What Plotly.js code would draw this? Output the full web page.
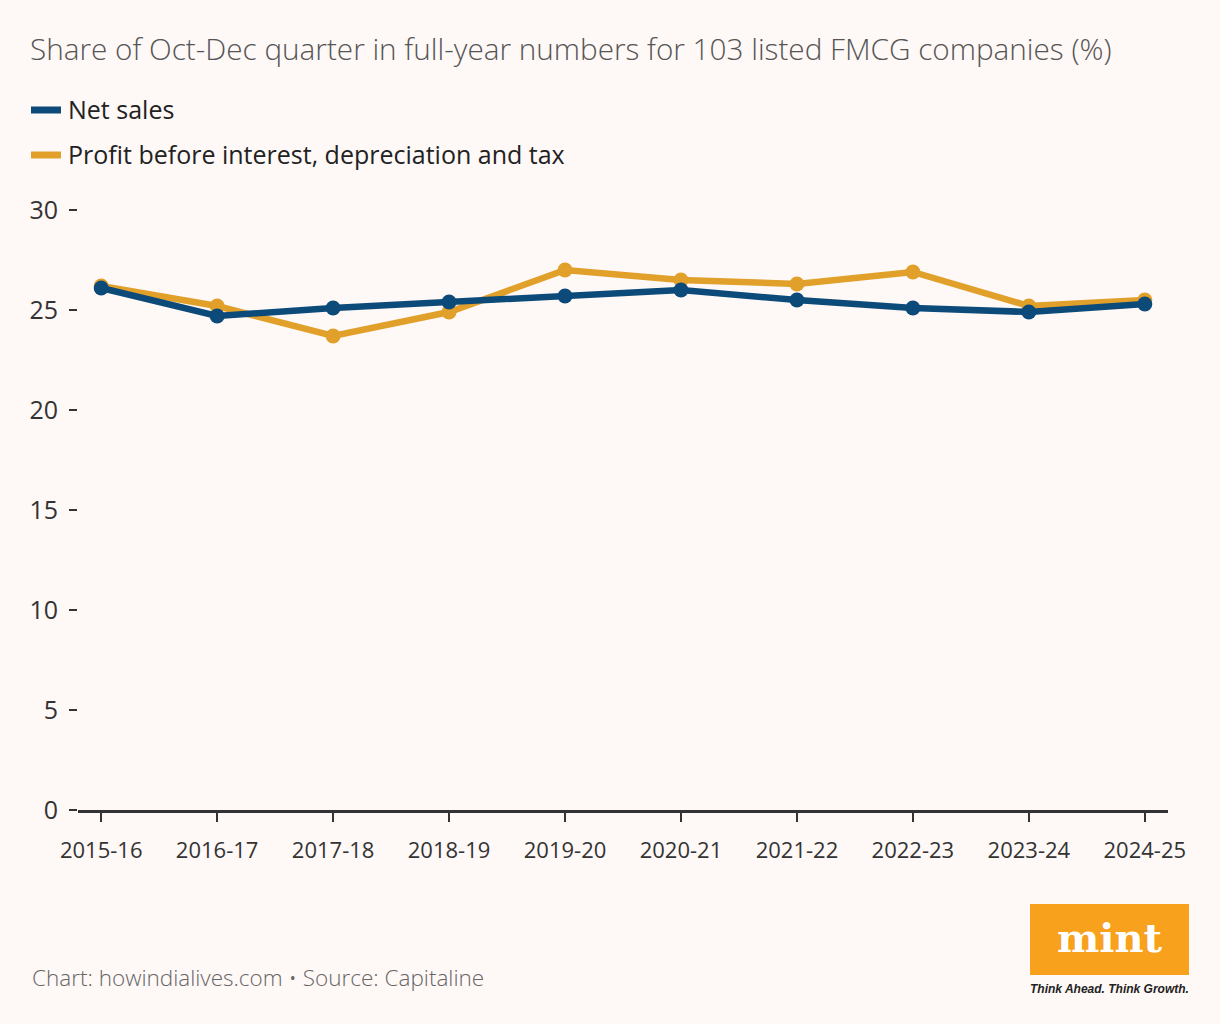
<!DOCTYPE html>
<html>
<head>
<meta charset="utf-8">
<script src="https://cdn.plot.ly/plotly-3.0.1.min.js"></script>
<style>
html,body{margin:0;padding:0;background:#fef8f7;}
#chart{width:1220px;height:1024px;}
</style>
</head>
<body>
<div id="chart"></div>
<script>
const years = ["2015-16","2016-17","2017-18","2018-19","2019-20","2020-21","2021-22","2022-23","2023-24","2024-25"];
const netSales = [26.1, 24.7, 25.1, 25.4, 25.7, 26.0, 25.5, 25.1, 24.9, 25.3];
const pbdit = [26.2, 25.2, 23.7, 24.9, 27.0, 26.5, 26.3, 26.9, 25.2, 25.5];
const yTicks = [0, 5, 10, 15, 20, 25, 30];

const seriesNames = ["Net sales", "Profit before interest, depreciation and tax"];
const blue = "#0c4a7a";
const orange = "#e0a02a";
const font = "'Open Sans', 'Noto Sans', sans-serif";

const traces = [
  {x: years, y: pbdit, name: seriesNames[1], type: "scatter", mode: "lines+markers",
   line: {color: orange, width: 6.5}, marker: {color: orange, size: 15}, showlegend: false, hoverinfo: "x+y"},
  {x: years, y: netSales, name: seriesNames[0], type: "scatter", mode: "lines+markers",
   line: {color: blue, width: 6.5}, marker: {color: blue, size: 15}, showlegend: false, hoverinfo: "x+y"}
];

const layout = {
  width: 1220, height: 1024,
  paper_bgcolor: "#fef8f7", plot_bgcolor: "#fef8f7",
  margin: {l: 78, r: 52, t: 210, b: 214},
  font: {family: font, color: "#333"},
  title: {text: "Share of Oct-Dec quarter in full-year numbers for 103 listed FMCG companies (%)",
          x: 30/1220, xanchor: "left", xref: "container", y: 1 - 50/1024, yanchor: "middle", yref: "container",
          font: {family: font, size: 29.7, color: "#555", weight: 300}},
  xaxis: {type: "category", range: [-0.2, 9.2], showgrid: false, zeroline: false,
          showline: true, linecolor: "#333", linewidth: 3,
          ticks: "outside", ticklen: 9, tickwidth: 2, tickcolor: "#333", ticklabelstandoff: 10,
          tickfont: {family: font, size: 22, color: "#333"}, fixedrange: true},
  yaxis: {range: [0, 30], tickvals: yTicks, showgrid: false, zeroline: false, showline: false,
          ticks: "outside", ticklen: 8, tickwidth: 1.5, tickcolor: "#333", ticklabelstandoff: 6,
          tickfont: {family: font, size: 25, color: "#333"}, fixedrange: true},
  shapes: [
    {type: "line", xref: "paper", yref: "paper", x0: -47/1090, x1: -17/1090, y0: 1 + 100/600, y1: 1 + 100/600,
     line: {color: blue, width: 7}},
    {type: "line", xref: "paper", yref: "paper", x0: -47/1090, x1: -17/1090, y0: 1 + 55/600, y1: 1 + 55/600,
     line: {color: orange, width: 7}},
    {type: "rect", xref: "paper", yref: "paper", x0: (1030-78)/1090, x1: (1189-78)/1090,
     y0: (810-975)/600, y1: (810-904)/600, fillcolor: "#f7a11c", line: {width: 0}}
  ],
  annotations: [
    {text: seriesNames[0], xref: "paper", yref: "paper", x: -12/1090, y: 1 + 101/600, xanchor: "left", yanchor: "middle",
     showarrow: false, font: {family: font, size: 25, color: "#222"}},
    {text: seriesNames[1], xref: "paper", yref: "paper", x: -12/1090, y: 1 + 56/600, xanchor: "left", yanchor: "middle",
     showarrow: false, font: {family: font, size: 25, color: "#222"}},
    {text: "Chart: howindialives.com \u2022 Source: Capitaline", xref: "paper", yref: "paper",
     x: -48/1090, y: (810-977)/600, xanchor: "left", yanchor: "middle", showarrow: false,
     font: {family: font, size: 22.5, color: "#666", weight: 300}},
    {text: "<b>mint</b>", xref: "paper", yref: "paper", x: (1109.5-78)/1090, y: (810-937)/600,
     xanchor: "center", yanchor: "middle", showarrow: false,
     font: {family: "'DejaVu Serif', 'Liberation Serif', serif", size: 40, color: "#ffffff"}},
    {text: "<b><i>Think Ahead. Think Growth.</i></b>", xref: "paper", yref: "paper", x: (1109.5-78)/1090, y: (810-989)/600,
     xanchor: "center", yanchor: "middle", showarrow: false,
     font: {family: "'Liberation Sans', Arial, sans-serif", size: 12, color: "#222"}}
  ]
};

Plotly.newPlot("chart", traces, layout, {displayModeBar: false, staticPlot: true});
</script>
</body>
</html>
